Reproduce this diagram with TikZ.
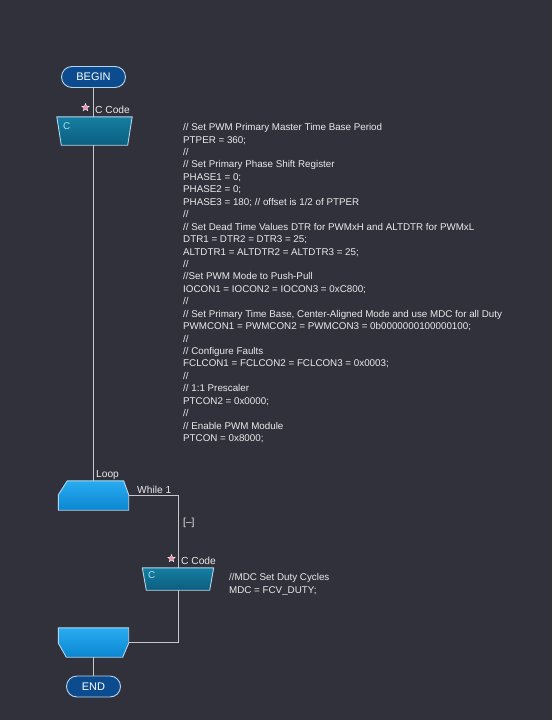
\documentclass[tikz,border=0pt]{standalone}
\usepackage{fontspec}
\setmainfont{Liberation Sans}
\usetikzlibrary{shapes.geometric}

\definecolor{bgcol}{HTML}{31313B}
\definecolor{wirecol}{HTML}{C8C8CC}
\definecolor{txtcol}{HTML}{EAEAEC}
\definecolor{edgecol}{HTML}{B4D6EC}
\definecolor{termcol}{HTML}{0C4C8E}
\definecolor{ctop}{HTML}{157EA2}
\definecolor{cbot}{HTML}{0B5E80}
\definecolor{looptop}{HTML}{28ACF0}
\definecolor{loopbot}{HTML}{0B86D2}
\definecolor{cletter}{HTML}{A6E4F6}
\definecolor{starcol}{HTML}{F08CB0}

\begin{document}
\begin{tikzpicture}[x=1pt,y=-1pt,
  every node/.style={font=\fontsize{9.8}{12.44}\selectfont,text=txtcol},
  term/.style={draw=edgecol,fill=termcol,line width=0.9pt,rounded corners=10.5pt,
    minimum height=21pt,inner sep=0pt,text=white,font=\fontsize{11}{12}\selectfont},
  hold/.style={inner sep=0pt,minimum width=#1},
  blk/.style={draw=edgecol,line width=0.9pt},
  wire/.style={draw=wirecol,line width=0.8pt},
  lbl/.style={anchor=west,inner sep=0pt,font=\fontsize{10.2}{12}\selectfont},
  starmark/.style={star,star points=5,star point ratio=2.3,fill=starcol,draw=white,
    line width=0.3pt,minimum size=8pt,inner sep=0pt}]
  \fill[bgcol] (0,0) rectangle (552,720);

  \node[term,minimum width=64pt] (begin) at (93.5,77) {BEGIN};
  \node[hold=75pt,minimum height=28pt] (c1) at (94.5,131) {};
  \node[hold=70pt,minimum height=29pt] (loop) at (93.5,495.5) {};
  \node[hold=71pt,minimum height=22pt] (c2) at (178,579) {};
  \node[hold=70pt,minimum height=29pt] (endl) at (93.5,642.5) {};
  \node[term,minimum width=54pt] (end) at (93.5,686.5) {END};

  \draw[wire] (begin.south) -- (begin.south |- c1.north);
  \draw[wire] (begin.south |- c1.south) -- (loop.north);
  \draw[wire] (loop.east) -| (c2.north);
  \draw[wire] (c2.south) |- (endl.east);
  \draw[wire] (endl.south) -- (end.north);

  \path[blk,top color=ctop,bottom color=cbot]
    (c1.north west) -- (c1.north east) -- ([xshift=-4.5pt]c1.south east)
    -- ([xshift=4.5pt]c1.south west) -- cycle;
  \path[blk,top color=ctop,bottom color=cbot]
    (c2.north west) -- (c2.north east) -- ([xshift=-4pt]c2.south east)
    -- ([xshift=4pt]c2.south west) -- cycle;
  \path[blk,top color=looptop,bottom color=loopbot]
    ([xshift=9pt]loop.north west) -- ([xshift=-5pt]loop.north east)
    -- ([yshift=-14pt]loop.north east) -- (loop.south east)
    -- (loop.south west) -- ([yshift=-14pt]loop.north west) -- cycle;
  \path[blk,top color=looptop,bottom color=loopbot]
    (endl.north west) -- (endl.north east) -- ([yshift=14pt]endl.south east)
    -- ([xshift=-6pt]endl.south east) -- ([xshift=8pt]endl.south west)
    -- ([yshift=14pt]endl.south west) -- cycle;

  \node[text=cletter,anchor=west] (c1tag) at (59.5,126) {C};
  \node[text=cletter,anchor=west] (c2tag) at (144.5,575.5) {C};
  \node[starmark] (s1) at (85.5,107.5) {};
  \node[lbl] (c1lbl) at (95,109.5) {C Code};
  \node[starmark] (s2) at (171.5,558.5) {};
  \node[lbl] (c2lbl) at (181,560.5) {C Code};
  \node[lbl] (looplbl) at (96,475) {Loop};
  \node[lbl] (whilelbl) at (137,490) {While 1};
  \node[lbl] (caselbl) at (183,523) {[--]};

  \node[anchor=north west,align=left,inner sep=0pt] (setup) at (183,123.3) {%
    // Set PWM Primary Master Time Base Period\\
    PTPER = 360;\\
    //\\
    // Set Primary Phase Shift Register\\
    PHASE1 = 0;\\
    PHASE2 = 0;\\
    PHASE3 = 180; // offset is 1/2 of PTPER\\
    //\\
    // Set Dead Time Values DTR for PWMxH and ALTDTR for PWMxL\\
    DTR1 = DTR2 = DTR3 = 25;\\
    ALTDTR1 = ALTDTR2 = ALTDTR3 = 25;\\
    //\\
    //Set PWM Mode to Push-Pull\\
    IOCON1 = IOCON2 = IOCON3 = 0xC800;\\
    //\\
    // Set Primary Time Base, Center-Aligned Mode and use MDC for all Duty\\
    PWMCON1 = PWMCON2 = PWMCON3 = 0b0000000100000100;\\
    //\\
    // Configure Faults\\
    FCLCON1 = FCLCON2 = FCLCON3 = 0x0003;\\
    //\\
    // 1:1 Prescaler\\
    PTCON2 = 0x0000;\\
    //\\
    // Enable PWM Module\\
    PTCON = 0x8000;};
  \node[anchor=north west,align=left,inner sep=0pt] (duty) at (229,573.5) {%
    //MDC Set Duty Cycles\\
    MDC = FCV\_DUTY;};
\end{tikzpicture}
\end{document}
